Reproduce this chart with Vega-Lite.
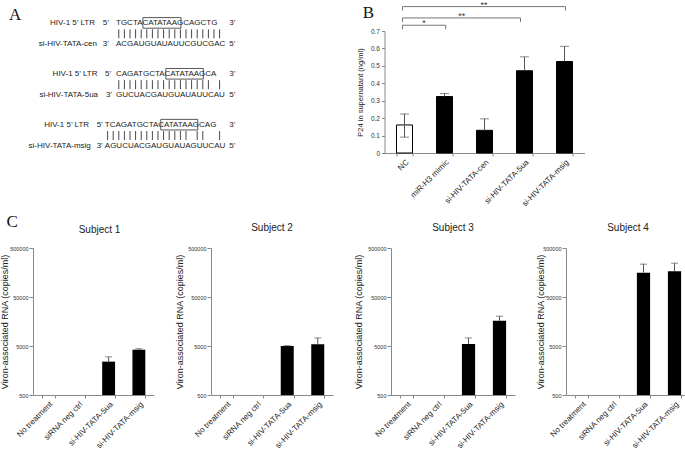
{
"$schema":"https://vega.github.io/schema/vega-lite/v6.json",
"padding":0,
"background":"white",
"config":{"view":{"stroke":null},"font":"Liberation Sans","axis":{"labelFont":"Liberation Sans","titleFont":"Liberation Sans","grid":false,"domainColor":"#888","tickColor":"#888","labelColor":"#333","titleColor":"#222","titleFontWeight":"normal","labelOverlap":false}},
"datasets":{
"atext":[
{"t":"HIV-1 5’ LTR","col":16.75,"row":2,"k":"r"},
{"t":"5’","col":18.7,"row":2,"k":"c"},
{"t":"TGCTACATATAAGCAGCTG","col":20.5,"row":2,"k":"l"},
{"t":"3’","col":41.3,"row":2,"k":"c"},
{"t":"si-HIV-TATA-cen","col":17.1,"row":4,"k":"r"},
{"t":"3’","col":18.7,"row":4,"k":"c"},
{"t":"ACGAUGUAUAUUCGUCGAC","col":20.5,"row":4,"k":"l"},
{"t":"5’","col":41.3,"row":4,"k":"c"},
{"t":"HIV-1 5’ LTR","col":17.2,"row":6.8,"k":"r"},
{"t":"5’","col":19.1,"row":6.8,"k":"c"},
{"t":"CAGATGCTACATATAAGCA","col":20.5,"row":6.8,"k":"l"},
{"t":"3’","col":41.3,"row":6.8,"k":"c"},
{"t":"si-HIV-TATA-5ua","col":17.3,"row":8.8,"k":"r"},
{"t":"3’","col":19.25,"row":8.8,"k":"c"},
{"t":"GUCUACGAUGUAUAUUCAU","col":20.5,"row":8.8,"k":"l"},
{"t":"5’","col":41.3,"row":8.8,"k":"c"},
{"t":"HIV-1 5’ LTR","col":15.7,"row":11.6,"k":"r"},
{"t":"5’","col":17.6,"row":11.6,"k":"c"},
{"t":"TCAGATGCTACATATAAGCAG","col":18.5,"row":11.6,"k":"l"},
{"t":"3’","col":41.3,"row":11.6,"k":"c"},
{"t":"si-HIV-TATA-msig","col":16.0,"row":13.6,"k":"r"},
{"t":"3’","col":17.6,"row":13.6,"k":"c"},
{"t":"AGUCUACGAUGUAUAGUUCAU","col":18.5,"row":13.6,"k":"l"},
{"t":"5’","col":41.3,"row":13.6,"k":"c"}
],
"abars":[
{"row":3,"cols":[21,22,23,24,25,26,27,28,29,30,31,32,33,34,35,36,37,38,39]},
{"row":7.8,"cols":[21,22,23,24,25,26,27,28,29,30,31,32,33,34,35,36,37,39]},
{"row":12.6,"cols":[19,20,21,22,23,24,25,26,27,28,29,30,31,32,33,35,36,39]}
],
"aboxes":[
{"row":2,"c1":25.3,"c2":32.1},
{"row":6.8,"c1":29.4,"c2":36.1},
{"row":11.6,"c1":28.5,"c2":35.1}
],
"b":[
{"c":"NC","v":0.161,"lo":0.091,"hi":0.224},
{"c":"miR-H3 mimic","v":0.324,"lo":0.324,"hi":0.341},
{"c":"si-HIV-TATA-cen","v":0.13,"lo":0.13,"hi":0.196},
{"c":"si-HIV-TATA-5ua","v":0.472,"lo":0.472,"hi":0.552},
{"c":"si-HIV-TATA-msig","v":0.525,"lo":0.525,"hi":0.612}
],
"sig":[
{"x1":0.45,"x2":1.53,"xm":0.99,"y":0.733,"t":"*"},
{"x1":0.45,"x2":3.4,"xm":1.93,"y":0.775,"t":"**"},
{"x1":0.45,"x2":4.525,"xm":2.49,"y":0.84,"t":"**"}
],
"c":[
{"s":1,"cond":"si-HIV-TATA-5ua","v":2400,"hi":3000},
{"s":1,"cond":"si-HIV-TATA-msig","v":4200,"hi":4400},
{"s":2,"cond":"si-HIV-TATA-5ua","v":5000,"hi":5080},
{"s":2,"cond":"si-HIV-TATA-msig","v":5400,"hi":7300},
{"s":3,"cond":"si-HIV-TATA-5ua","v":5500,"hi":7300},
{"s":3,"cond":"si-HIV-TATA-msig","v":16300,"hi":20300},
{"s":4,"cond":"si-HIV-TATA-5ua","v":157000,"hi":234000},
{"s":4,"cond":"si-HIV-TATA-msig","v":167000,"hi":245000}
]
},
"spacing":5,
"vconcat":[
{"spacing":112.5,"hconcat":[
{"width":210,"height":122,
 "layer":[
  {"data":{"name":"atext"},"transform":[{"filter":"datum.k == 'r'"}],"mark":{"type":"text","align":"right","baseline":"middle","fontSize":8,"color":"#222"},
   "encoding":{"x":{"field":"col","type":"quantitative","scale":{"domain":[5.68,43.18],"nice":false,"zero":false},"axis":null},"y":{"field":"row","type":"quantitative","scale":{"domain":[2.736,14.245],"nice":false,"zero":false,"reverse":true},"axis":null},"text":{"field":"t"}}},
  {"data":{"name":"atext"},"transform":[{"filter":"datum.k == 'c'"}],"mark":{"type":"text","align":"center","baseline":"middle","fontSize":8,"color":"#222"},
   "encoding":{"x":{"field":"col","type":"quantitative"},"y":{"field":"row","type":"quantitative"},"text":{"field":"t"}}},
  {"data":{"name":"atext"},"transform":[{"filter":"datum.k == 'l'"}],"mark":{"type":"text","align":"left","baseline":"middle","fontSize":8,"color":"#222"},
   "encoding":{"x":{"field":"col","type":"quantitative"},"y":{"field":"row","type":"quantitative"},"text":{"field":"t"}}},
  {"data":{"name":"abars"},"transform":[{"flatten":["cols"]}],"mark":{"type":"rule","color":"#333","strokeWidth":0.9,"yOffset":-4.5,"y2Offset":4.5},
   "encoding":{"x":{"field":"cols","type":"quantitative"},"y":{"field":"row","type":"quantitative"},"y2":{"field":"row"}}},
  {"data":{"name":"aboxes"},"mark":{"type":"rect","fill":"transparent","stroke":"#444","strokeWidth":0.9,"yOffset":-5.6,"y2Offset":5},
   "encoding":{"x":{"field":"c1","type":"quantitative"},"x2":{"field":"c2"},"y":{"field":"row","type":"quantitative"},"y2":{"field":"row"}}},
  {"data":{"values":[{}]},"mark":{"type":"text","text":"A","font":"Liberation Serif","fontSize":17,"baseline":"middle","align":"center","color":"#111"},
   "encoding":{"x":{"datum":2.5,"type":"quantitative"},"y":{"datum":1.25,"type":"quantitative"}}}
 ]},
{"width":200,"height":122,
 "resolve":{"scale":{"x":"independent"}},
 "layer":[
  {"data":{"name":"b"},
   "layer":[
    {"mark":{"type":"bar","stroke":"#000","strokeWidth":1},
     "encoding":{"x":{"field":"c","type":"nominal","sort":null,"title":null,"scale":{"domain":["NC","miR-H3 mimic","si-HIV-TATA-cen","si-HIV-TATA-5ua","si-HIV-TATA-msig"],"paddingInner":0.6,"paddingOuter":0.3},
       "axis":{"title":null,"labelAngle":-45,"labelFontSize":8,"tickBand":"extent","tickSize":3,"labelPadding":2,"labelColor":"#222"}},
      "y":{"field":"v","type":"quantitative","title":"P24 in supernatant (ng/ml)","scale":{"domain":[0,0.7],"nice":false},
       "axis":{"values":[0,0.1,0.2,0.3,0.4,0.5,0.6,0.7],"format":".1~f","labelFontSize":6.5,"titleFontSize":7.5,"tickSize":3,"labelPadding":2,"titlePadding":6,"labelOverlap":false}},
      "color":{"condition":{"test":"datum.c == 'NC'","value":"white"},"value":"black"}}},
    {"mark":{"type":"rule","color":"#555","strokeWidth":1},
     "encoding":{"x":{"field":"c","type":"nominal","sort":null,"title":null},"y":{"field":"lo","type":"quantitative","title":"P24 in supernatant (ng/ml)","axis":{"values":[0,0.1,0.2,0.3,0.4,0.5,0.6,0.7],"format":".1~f","labelFontSize":6.5,"titleFontSize":7.5,"tickSize":3,"labelPadding":2,"titlePadding":6,"labelOverlap":false}},"y2":{"field":"hi"}}},
    {"mark":{"type":"tick","color":"#555","size":9,"thickness":1},
     "encoding":{"x":{"field":"c","type":"nominal","sort":null,"title":null},"y":{"field":"hi","type":"quantitative","title":"P24 in supernatant (ng/ml)","axis":{"values":[0,0.1,0.2,0.3,0.4,0.5,0.6,0.7],"format":".1~f","labelFontSize":6.5,"titleFontSize":7.5,"tickSize":3,"labelPadding":2,"titlePadding":6,"labelOverlap":false}}}},
    {"transform":[{"filter":"datum.lo < datum.v"}],"mark":{"type":"tick","color":"#555","size":9,"thickness":1},
     "encoding":{"x":{"field":"c","type":"nominal","sort":null,"title":null},"y":{"field":"lo","type":"quantitative","title":"P24 in supernatant (ng/ml)","axis":{"values":[0,0.1,0.2,0.3,0.4,0.5,0.6,0.7],"format":".1~f","labelFontSize":6.5,"titleFontSize":7.5,"tickSize":3,"labelPadding":2,"titlePadding":6,"labelOverlap":false}}}}
   ]},
  {"data":{"name":"sig"},
   "layer":[
    {"mark":{"type":"rule","color":"#777","strokeWidth":1},
     "encoding":{"x":{"field":"x1","type":"quantitative","scale":{"domain":[0,5],"nice":false,"zero":false},"axis":null},"x2":{"field":"x2"},"y":{"field":"y","type":"quantitative","title":"P24 in supernatant (ng/ml)","scale":{"domain":[0,0.7],"nice":false},"axis":{"values":[0,0.1,0.2,0.3,0.4,0.5,0.6,0.7],"format":".1~f","labelFontSize":6.5,"titleFontSize":7.5,"tickSize":3,"labelPadding":2,"titlePadding":6,"labelOverlap":false}}}},
    {"mark":{"type":"rule","color":"#777","strokeWidth":1,"y2Offset":4},
     "encoding":{"x":{"field":"x1","type":"quantitative"},"y":{"field":"y","type":"quantitative","title":"P24 in supernatant (ng/ml)","axis":{"values":[0,0.1,0.2,0.3,0.4,0.5,0.6,0.7],"format":".1~f","labelFontSize":6.5,"titleFontSize":7.5,"tickSize":3,"labelPadding":2,"titlePadding":6,"labelOverlap":false}},"y2":{"field":"y"}}},
    {"mark":{"type":"rule","color":"#777","strokeWidth":1,"y2Offset":4},
     "encoding":{"x":{"field":"x2","type":"quantitative"},"y":{"field":"y","type":"quantitative","title":"P24 in supernatant (ng/ml)","axis":{"values":[0,0.1,0.2,0.3,0.4,0.5,0.6,0.7],"format":".1~f","labelFontSize":6.5,"titleFontSize":7.5,"tickSize":3,"labelPadding":2,"titlePadding":6,"labelOverlap":false}},"y2":{"field":"y"}}},
    {"mark":{"type":"text","fontSize":9,"baseline":"alphabetic","align":"center","dy":1,"color":"#333"},
     "encoding":{"x":{"field":"xm","type":"quantitative"},"y":{"field":"y","type":"quantitative","title":"P24 in supernatant (ng/ml)","axis":{"values":[0,0.1,0.2,0.3,0.4,0.5,0.6,0.7],"format":".1~f","labelFontSize":6.5,"titleFontSize":7.5,"tickSize":3,"labelPadding":2,"titlePadding":6,"labelOverlap":false}},"text":{"field":"t"}}},
    {"data":{"values":[{}]},"mark":{"type":"text","text":"B","font":"Liberation Serif","fontSize":17,"baseline":"middle","align":"center","color":"#111"},
     "encoding":{"x":{"datum":-0.4,"type":"quantitative"},"y":{"datum":0.803,"type":"quantitative","title":"P24 in supernatant (ng/ml)","axis":{"values":[0,0.1,0.2,0.3,0.4,0.5,0.6,0.7],"format":".1~f","labelFontSize":6.5,"titleFontSize":7.5,"tickSize":3,"labelPadding":2,"titlePadding":6,"labelOverlap":false}}}}
   ]}
 ]}
]},
{"spacing":21,"hconcat":[
{"width":121,"height":147,
 "title":{"text":"Subject 1","fontSize":10,"fontWeight":"normal","color":"#222","offset":13,"anchor":"middle","frame":"group","dx":6,"dy":34.5},
 "data":{"name":"c"},"transform":[{"filter":"datum.s == 1"}],
 "layer":[
  {"mark":{"type":"bar","color":"#000"},
   "encoding":{"x":{"field":"cond","type":"nominal","sort":null,"title":null,"scale":{"domain":["No treatment","siRNA neg ctrl","si-HIV-TATA-5ua","si-HIV-TATA-msig"],"paddingInner":0.574,"paddingOuter":0.287},
     "axis":{"title":null,"labelAngle":-45,"labelFontSize":8,"tickBand":"extent","tickSize":3,"labelPadding":2,"labelColor":"#222"}},
    "y":{"field":"v","type":"quantitative","title":"Viron-associated RNA (copies/ml)","scale":{"type":"log","domain":[500,500000],"nice":false},
     "axis":{"values":[500,5000,50000,500000],"format":"d","labelFontSize":5.5,"titleFontSize":9,"tickSize":4,"labelPadding":1,"titlePadding":0}},
    "y2":{"datum":500}}},
  {"mark":{"type":"rule","color":"#555"},"encoding":{"x":{"field":"cond","type":"nominal","sort":null,"title":null},"y":{"field":"v","type":"quantitative","title":"Viron-associated RNA (copies/ml)"},"y2":{"field":"hi"}}},
  {"mark":{"type":"tick","color":"#555","size":7,"thickness":1},"encoding":{"x":{"field":"cond","type":"nominal","sort":null,"title":null},"y":{"field":"hi","type":"quantitative","title":"Viron-associated RNA (copies/ml)"}}},
  {"data":{"values":[{}]},"mark":{"type":"text","text":"C","font":"Liberation Serif","fontSize":17,"baseline":"middle","align":"center","color":"#111","dx":-36,"dy":-26},
   "encoding":{"x":{"datum":"No treatment","type":"nominal"},"y":{"datum":500000,"type":"quantitative","title":"Viron-associated RNA (copies/ml)"}}}
 ]},
{"width":122,"height":147,
 "title":{"text":"Subject 2","fontSize":10,"fontWeight":"normal","color":"#222","offset":13,"anchor":"middle","frame":"group"},
 "data":{"name":"c"},"transform":[{"filter":"datum.s == 2"}],
 "layer":[
  {"mark":{"type":"bar","color":"#000"},
   "encoding":{"x":{"field":"cond","type":"nominal","sort":null,"title":null,"scale":{"domain":["No treatment","siRNA neg ctrl","si-HIV-TATA-5ua","si-HIV-TATA-msig"],"paddingInner":0.574,"paddingOuter":0.287},
     "axis":{"title":null,"labelAngle":-45,"labelFontSize":8,"tickBand":"extent","tickSize":3,"labelPadding":2,"labelColor":"#222"}},
    "y":{"field":"v","type":"quantitative","title":"Viron-associated RNA (copies/ml)","scale":{"type":"log","domain":[500,500000],"nice":false},
     "axis":{"values":[500,5000,50000,500000],"format":"d","labelFontSize":5.5,"titleFontSize":9,"tickSize":4,"labelPadding":1,"titlePadding":3}},
    "y2":{"datum":500}}},
  {"mark":{"type":"rule","color":"#555"},"encoding":{"x":{"field":"cond","type":"nominal","sort":null,"title":null},"y":{"field":"v","type":"quantitative","title":"Viron-associated RNA (copies/ml)"},"y2":{"field":"hi"}}},
  {"mark":{"type":"tick","color":"#555","size":7,"thickness":1},"encoding":{"x":{"field":"cond","type":"nominal","sort":null,"title":null},"y":{"field":"hi","type":"quantitative","title":"Viron-associated RNA (copies/ml)"}}}
 ]},
{"width":124,"height":147,
 "title":{"text":"Subject 3","fontSize":10,"fontWeight":"normal","color":"#222","offset":13,"anchor":"middle","frame":"group"},
 "data":{"name":"c"},"transform":[{"filter":"datum.s == 3"}],
 "layer":[
  {"mark":{"type":"bar","color":"#000"},
   "encoding":{"x":{"field":"cond","type":"nominal","sort":null,"title":null,"scale":{"domain":["No treatment","siRNA neg ctrl","si-HIV-TATA-5ua","si-HIV-TATA-msig"],"paddingInner":0.574,"paddingOuter":0.287},
     "axis":{"title":null,"labelAngle":-45,"labelFontSize":8,"tickBand":"extent","tickSize":3,"labelPadding":2,"labelColor":"#222"}},
    "y":{"field":"v","type":"quantitative","title":"Viron-associated RNA (copies/ml)","scale":{"type":"log","domain":[500,500000],"nice":false},
     "axis":{"values":[500,5000,50000,500000],"format":"d","labelFontSize":5.5,"titleFontSize":9,"tickSize":4,"labelPadding":1,"titlePadding":4}},
    "y2":{"datum":500}}},
  {"mark":{"type":"rule","color":"#555"},"encoding":{"x":{"field":"cond","type":"nominal","sort":null,"title":null},"y":{"field":"v","type":"quantitative","title":"Viron-associated RNA (copies/ml)"},"y2":{"field":"hi"}}},
  {"mark":{"type":"tick","color":"#555","size":7,"thickness":1},"encoding":{"x":{"field":"cond","type":"nominal","sort":null,"title":null},"y":{"field":"hi","type":"quantitative","title":"Viron-associated RNA (copies/ml)"}}}
 ]},
{"width":124,"height":147,
 "title":{"text":"Subject 4","fontSize":10,"fontWeight":"normal","color":"#222","offset":13,"anchor":"middle","frame":"group"},
 "data":{"name":"c"},"transform":[{"filter":"datum.s == 4"}],
 "layer":[
  {"mark":{"type":"bar","color":"#000"},
   "encoding":{"x":{"field":"cond","type":"nominal","sort":null,"title":null,"scale":{"domain":["No treatment","siRNA neg ctrl","si-HIV-TATA-5ua","si-HIV-TATA-msig"],"paddingInner":0.574,"paddingOuter":0.287},
     "axis":{"title":null,"labelAngle":-45,"labelFontSize":8,"tickBand":"extent","tickSize":3,"labelPadding":2,"labelColor":"#222"}},
    "y":{"field":"v","type":"quantitative","title":"Viron-associated RNA (copies/ml)","scale":{"type":"log","domain":[500,500000],"nice":false},
     "axis":{"values":[500,5000,50000,500000],"format":"d","labelFontSize":5.5,"titleFontSize":9,"tickSize":4,"labelPadding":1,"titlePadding":-3}},
    "y2":{"datum":500}}},
  {"mark":{"type":"rule","color":"#555"},"encoding":{"x":{"field":"cond","type":"nominal","sort":null,"title":null},"y":{"field":"v","type":"quantitative","title":"Viron-associated RNA (copies/ml)"},"y2":{"field":"hi"}}},
  {"mark":{"type":"tick","color":"#555","size":7,"thickness":1},"encoding":{"x":{"field":"cond","type":"nominal","sort":null,"title":null},"y":{"field":"hi","type":"quantitative","title":"Viron-associated RNA (copies/ml)"}}}
 ]}
]}
]
}
